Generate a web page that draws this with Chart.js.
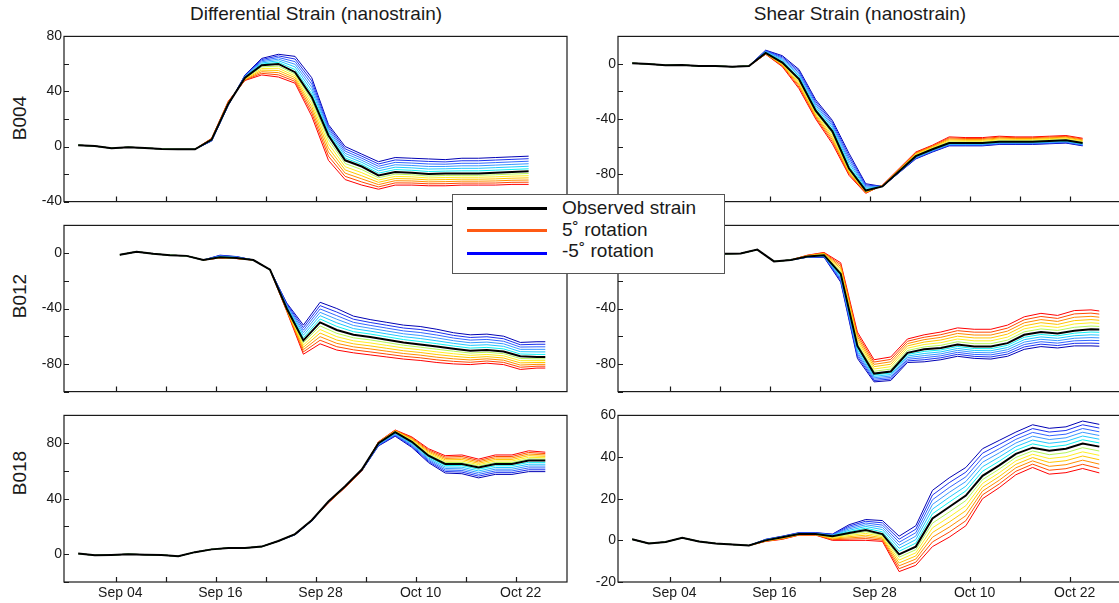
<!DOCTYPE html>
<html>
<head>
<meta charset="utf-8">
<script src="https://cdn.jsdelivr.net/npm/chart.js@4.4.0/dist/chart.umd.min.js"></script>
<style>
  body { margin: 0; width: 1119px; height: 603px; overflow: hidden; background: #fff; position: relative;
         font-family: "Liberation Sans", Arial, sans-serif; color: #1a1a1a; }
  canvas { position: absolute; }
  .title { position: absolute; top: 4px; font-size: 19px; line-height: 20px; white-space: nowrap; transform: translateX(-50%); }
  .ylab { position: absolute; font-size: 19px; line-height: 20px; white-space: nowrap; transform: translate(-50%, -50%) rotate(-90deg); }
  #legend { position: absolute; left: 452px; top: 194px; width: 271px; height: 78px; border: 1px solid #555; background: #fff; z-index: 10; }
  #legend .sw { position: absolute; left: 14px; width: 80px; height: 3px; }
  #legend .tx { position: absolute; left: 109px; font-size: 19px; line-height: 20px; white-space: nowrap; }
</style>
</head>
<body>
<div class="title" style="left:316px">Differential Strain (nanostrain)</div>
<div class="title" style="left:860px">Shear Strain (nanostrain)</div>
<div class="ylab" style="left:20px; top:118px">B004</div>
<div class="ylab" style="left:20px; top:296px">B012</div>
<div class="ylab" style="left:20px; top:473px">B018</div>
<div id="legend">
  <div class="sw" style="top:12px; background:#000"></div><div class="tx" style="top:3px">Observed strain</div>
  <div class="sw" style="top:34px; background:#ff5a14"></div><div class="tx" style="top:25px">5˚ rotation</div>
  <div class="sw" style="top:57px; background:#0000ff"></div><div class="tx" style="top:46px">-5˚ rotation</div>
</div>
<script>
// --- Data (x = days after Aug 29) ---
const daysB004 = [1.5, 3.5, 5.5, 7.5, 9.5, 11.5, 13.5, 15.5, 17.5, 19.5, 21.5, 23.5, 25.5, 27.5,
                  29.5, 31.5, 33.5, 35.5, 37.5, 39.5, 41.5, 43.5, 45.5, 47.5, 49.5, 51.5, 53.5, 55.5];
const daysB012 = [6.5, 8.5, 10.5, 12.5, 14.5, 16.5, 18.5, 20.5, 22.5, 24.5, 26.5, 28.5, 30.5, 32.5,
                  34.5, 36.5, 38.5, 40.5, 42.5, 44.5, 46.5, 48.5, 50.5, 52.5, 54.5, 56.5, 57.5];
const daysB018 = [1.5, 3.5, 5.5, 7.5, 9.5, 11.5, 13.5, 15.5, 17.5, 19.5, 21.5, 23.5, 25.5, 27.5, 29.5,
                  31.5, 33.5, 35.5, 37.5, 39.5, 41.5, 43.5, 45.5, 47.5, 49.5, 51.5, 53.5, 55.5, 57.5];

// B004
const b004DiffObs    = [1, 0.3, -1.2, -0.5, -1, -1.8, -2, -2, 5, 31, 50, 59, 60, 54, 36, 8, -10, -14.5, -21, -18.5, -19, -20, -19.5, -19.5, -19.5, -19, -18.5, -18];
const b004DiffPlus5  = [1, 0.3, -1.2, -0.5, -1, -1.8, -2, -2, 6, 33, 48, 52, 50.5, 46, 22, -10, -24, -28, -31, -28, -28, -28.5, -28.5, -28, -28, -28, -27.5, -27.5];
const b004DiffMinus5 = [1, 0.3, -1.2, -0.5, -1, -1.8, -2, -2, 4, 30, 52, 64, 67, 65.5, 50, 16, 0, -5.5, -11, -8, -8.5, -9, -9.5, -8.5, -8.5, -8, -7.5, -7];
const b004ShearObs    = [0.5, 0, -1, -0.8, -1.5, -1.5, -2, -1.5, 8, 1, -11, -34, -49, -76, -92, -89, -78, -67, -62, -57.5, -57.5, -57.5, -56.5, -56.5, -56.5, -56, -55.5, -57.5];
const b004ShearPlus5  = [0.5, 0, -1, -0.8, -1.5, -1.5, -2, -1.5, 7, -2, -18, -40, -58, -81, -94, -88, -76, -64, -59, -53, -53.5, -53.5, -52.5, -53, -53, -52.5, -52, -54];
const b004ShearMinus5 = [0.5, 0, -1, -0.8, -1.5, -1.5, -2, -1.5, 10, 6, -4, -26, -41, -65, -87, -89, -79, -69, -64, -59.5, -59.5, -59.5, -58.5, -58.5, -58.5, -58, -57.5, -59.5];

// B012
const b012DiffObs    = [-1.2, 1, -0.5, -1.5, -2, -5, -3, -3.5, -5, -12, -40, -63, -50, -55.5, -59, -60.5, -62.5, -64.5, -66, -67.5, -69, -70.5, -70, -71, -74.5, -75, -75];
const b012DiffPlus5  = [-1.2, 1, -0.5, -1.5, -2, -5, -3.5, -4, -5, -12, -42, -73, -65.5, -70, -72, -73.5, -75, -76.5, -77.5, -79, -80, -80.5, -79.5, -80.5, -84, -83, -83];
const b012DiffMinus5 = [-1.2, 1, -0.5, -1.5, -2, -5, -1.5, -2.5, -5, -12, -36, -52, -35.5, -40, -45.5, -48, -50, -52, -53, -55, -57.5, -59, -58.5, -60, -64.5, -64, -64];
const b012ShearObs    = [0, 0.5, 0, -0.5, -0.3, 2.5, -6, -5, -2.5, -1.5, -15, -67, -87, -85.5, -72, -69.5, -68.5, -66, -67.5, -67.5, -65, -59, -57, -58, -56, -55, -55.2];
const b012ShearPlus5  = [0, 0.5, 0, -0.5, -0.3, 2.5, -6, -5, -1.5, 0.5, -7, -57, -77, -75, -62, -59, -57, -54, -55, -55, -52, -46, -43.5, -45, -41.5, -41, -41.8];
const b012ShearMinus5 = [0, 0.5, 0, -0.5, -0.3, 2.5, -6, -5, -3, -3, -21, -76, -93, -92, -79, -78.5, -77, -74.5, -76, -76.5, -74.5, -69.5, -67.5, -68.5, -67, -67, -67.2];

// B018
const b018DiffObs    = [0.5, -0.8, -0.5, 0, -0.3, -0.5, -1.5, 1.5, 3.5, 4.5, 4.5, 5.5, 9.5, 14.5, 24.5, 38, 49, 61, 80, 88, 81, 71, 65, 65, 62.5, 65, 65, 67.5, 67.5];
const b018DiffPlus5  = [0.5, -0.8, -0.5, 0, -0.3, -0.5, -1.5, 1.5, 3.5, 4.5, 4.5, 5.5, 9.5, 14.5, 24.5, 37, 48, 60, 81, 89.5, 84.5, 76, 71, 71.5, 68.5, 71.5, 71.5, 74.5, 73.5];
const b018DiffMinus5 = [0.5, -0.8, -0.5, 0, -0.3, -0.5, -1.5, 1.5, 3.5, 4.5, 4.5, 5.5, 9.5, 14, 24, 37.5, 49, 60, 78, 85, 77, 66, 58.5, 58, 55, 57.5, 57.5, 59.5, 59.5];
const b018ShearObs    = [0.5, -1.5, -0.8, 1.2, -0.5, -1.5, -2, -2.5, 0, 1.5, 3, 3, 2, 3.5, 5, 3, -6.7, -3, 10.5, 16, 21.5, 31, 36, 41.5, 44.5, 43, 44, 46.5, 45];
const b018ShearPlus5  = [0.5, -1.5, -0.8, 1.2, -0.5, -1.5, -2, -2.5, -0.5, 0.5, 2.5, 2.5, 0, 0, 0, -0.5, -15, -12, -3, 1.5, 7, 20, 25.3, 31.5, 35, 31.8, 32.5, 34.5, 32.4];
const b018ShearMinus5 = [0.5, -1.5, -0.8, 1.2, -0.5, -1.5, -2, -2.5, 0.5, 2, 3.7, 3.7, 3, 7.5, 10, 9.5, 2, 7, 24, 30, 35, 44, 48, 52, 55.5, 53.8, 54.5, 57.3, 55.7];

// x axis ticks
const tickMarkDays = [6, 12, 18, 24, 30, 36, 42, 48, 54];
const tickLabelDays = [6, 18, 30, 42, 54];
const tickLabels = ["Sep 04", "Sep 16", "Sep 28", "Oct 10", "Oct 22"];

// rotation steps toward +5 (red side) and -5 (blue side), nearest first
const plusColors  = ["#b4f55a", "#ffee22", "#ffc400", "#ff8c00", "#ff4a00", "#ff0000"];
const minusColors = ["#10f0f0", "#20c8ff", "#3a98ff", "#3266ff", "#1c32ee", "#0000b4"];

// --- Frame + inward tick marks ---
const frameTicks = {
  id: "frameTicks",
  afterDatasetsDraw(chart) {
    const { ctx, chartArea: a, scales: { x, y } } = chart;
    ctx.save();
    ctx.strokeStyle = "#1a1a1a";
    ctx.lineWidth = 1.2;
    ctx.beginPath();
    tickMarkDays.forEach(d => {
      const px = Math.round(x.getPixelForValue(d)) + 0.5;
      ctx.moveTo(px, a.bottom);
      ctx.lineTo(px, a.bottom - 5);
    });
    y.ticks.forEach(t => {
      const py = Math.round(y.getPixelForValue(t.value)) + 0.5;
      ctx.moveTo(a.left, py);
      ctx.lineTo(a.left + 5, py);
    });
    ctx.stroke();
    ctx.strokeRect(a.left, a.top, a.right - a.left, a.bottom - a.top);
    ctx.restore();
  }
};

function rotSeries(days, obs, ext, frac) {
  return days.map((d, i) => ({ x: d, y: obs[i] + frac * (ext[i] - obs[i]) }));
}

// --- Panels ---
const panels = [
  { left: 0,   top: 36,  h: 166, days: daysB004, obs: b004DiffObs,  plus: b004DiffPlus5,  minus: b004DiffMinus5,  yMin: -40,  yMax: 80,  step: 20, labelStep: 40, showX: false },
  { left: 554, top: 36,  h: 166, days: daysB004, obs: b004ShearObs, plus: b004ShearPlus5, minus: b004ShearMinus5, yMin: -100, yMax: 20,  step: 20, labelStep: 40, showX: false },
  { left: 0,   top: 225, h: 167, days: daysB012, obs: b012DiffObs,  plus: b012DiffPlus5,  minus: b012DiffMinus5,  yMin: -100, yMax: 20,  step: 20, labelStep: 40, showX: false },
  { left: 554, top: 225, h: 167, days: daysB012, obs: b012ShearObs, plus: b012ShearPlus5, minus: b012ShearMinus5, yMin: -100, yMax: 20,  step: 20, labelStep: 40, showX: false },
  { left: 0,   top: 415, h: 167, days: daysB018, obs: b018DiffObs,  plus: b018DiffPlus5,  minus: b018DiffMinus5,  yMin: -20,  yMax: 100, step: 20, labelStep: 40, showX: true },
  { left: 554, top: 415, h: 167, days: daysB018, obs: b018ShearObs, plus: b018ShearPlus5, minus: b018ShearMinus5, yMin: -20,  yMax: 60,  step: 20, labelStep: 20, showX: true }
];

const font = { family: "'Liberation Sans', Arial, sans-serif", size: 14 };

panels.forEach(p => {
  const xH = p.showX ? 24 : 10;
  const canvas = document.createElement("canvas");
  canvas.width = 577;
  canvas.height = 10 + p.h + xH;
  canvas.style.left = p.left + "px";
  canvas.style.top = (p.top - 10) + "px";
  document.body.appendChild(canvas);

  const datasets = [{ data: rotSeries(p.days, p.obs, p.obs, 0), borderColor: "#000", borderWidth: 2 }];
  const n = plusColors.length;
  for (let k = 1; k <= n; k++) {
    datasets.push({ data: rotSeries(p.days, p.obs, p.plus, k / n), borderColor: plusColors[k - 1], borderWidth: 1 });
    datasets.push({ data: rotSeries(p.days, p.obs, p.minus, k / n), borderColor: minusColors[k - 1], borderWidth: 1 });
  }

  const yTicks = [];
  for (let v = p.yMin; v <= p.yMax; v += p.step) yTicks.push(v);

  new Chart(canvas, {
    type: "line",
    data: { datasets },
    options: {
      responsive: false,
      animation: false,
      layout: { padding: { top: 10, right: 10, left: 0, bottom: 0 } },
      plugins: { legend: { display: false }, tooltip: { enabled: false } },
      elements: { point: { radius: 0 }, line: { tension: 0 } },
      scales: {
        x: {
          type: "linear", min: -0.2, max: 60.1,
          grid: { display: false, drawTicks: false }, border: { display: false },
          afterBuildTicks: s => { s.ticks = tickLabelDays.map(v => ({ value: v + 0.55 })); },
          afterFit: s => { s.height = xH; },
          ticks: { display: p.showX, autoSkip: false, maxRotation: 0, padding: 3, color: "#1a1a1a", font,
                   callback: (v, i) => tickLabels[i] }
        },
        y: {
          min: p.yMin, max: p.yMax,
          grid: { display: false, drawTicks: false }, border: { display: false },
          afterBuildTicks: s => { s.ticks = yTicks.map(v => ({ value: v })); },
          afterFit: s => { s.width = 64; },
          ticks: { padding: 2, color: "#1a1a1a", font,
                   callback: v => (Math.abs(v % p.labelStep) < 1e-6 ? String(v) : "") }
        }
      }
    },
    plugins: [frameTicks]
  });
});
</script>
</body>
</html>
